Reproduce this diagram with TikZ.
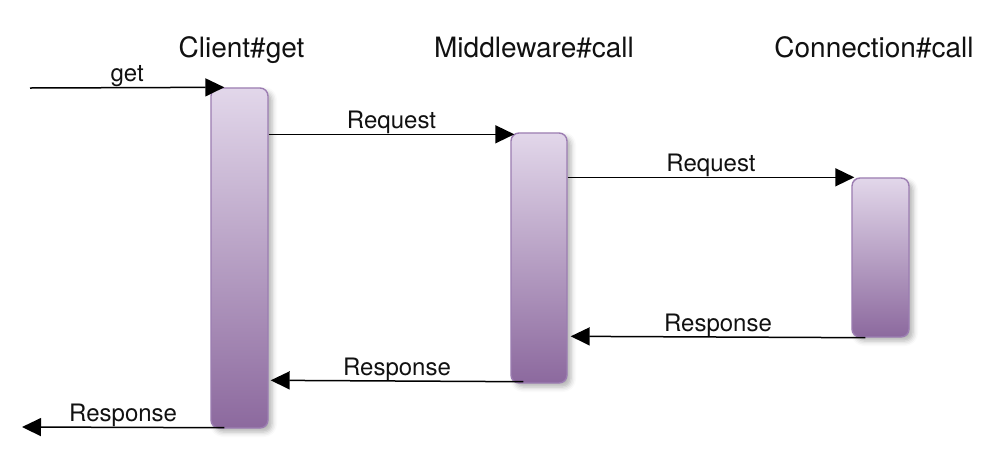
\documentclass[tikz,border=0pt]{standalone}
\usepackage{fontspec}
\setmainfont{TeX Gyre Heros}
\usetikzlibrary{arrows.meta,calc,shadows.blur}
\definecolor{topc}{HTML}{E2D7EA}
\definecolor{botc}{HTML}{8C699E}
\definecolor{edgec}{HTML}{9C7DB2}
\definecolor{txt}{HTML}{111111}
\tikzset{
  actbox/.style={draw=edgec, line width=1.4pt, rounded corners=8pt, top color=topc, bottom color=botc,
    inner sep=0pt, blur shadow={shadow xshift=4pt, shadow yshift=-4pt, shadow blur radius=5pt, shadow opacity=30}},
  title/.style={font=\fontsize{28}{30}\selectfont, text=txt, inner sep=0pt, anchor=base},
  msg/.style={draw=black, line width=1.5pt, -{Triangle[length=19pt,width=18pt]}},
  lbl/.style={font=\fontsize{24}{26}\selectfont, text=txt, inner sep=0pt, anchor=base, yshift=6pt, midway}
}
\begin{document}
\begin{tikzpicture}[x=1pt,y=-1pt]
\useasboundingbox (0,0) rectangle (1001,451);
% titles
\node[title] (tc) at (241.5,57) {Client\#get};
\node[title] (tm) at (534,57) {Middleware\#call};
\node[title] (tn) at (874,57) {Connection\#call};
% activation boxes
\node[actbox, minimum width=57pt, minimum height=340pt] (c) at (239.5,258) {};
\node[actbox, minimum width=56pt, minimum height=250pt] (m) at (539,258) {};
\node[actbox, minimum width=57pt, minimum height=159pt] (n) at (880.5,257.5) {};
% free ends
\coordinate (in) at (30,88);
\coordinate (out) at (22,427);
% messages
\draw[msg] (in) -- ($(c.north west)+(14,0)$) node[lbl] (l1) {get};
\draw[msg] ($(c.north east)+(0,47)$) -- ($(m.north west)+(4,2)$) node[lbl] (l2) {Request};
\draw[msg] ($(m.north east)+(0,45)$) -- ($(n.north west)+(3,0)$) node[lbl] (l3) {Request};
\draw[msg] ($(n.south west)+(14,0)$) -- ($(m.north east)+(3,204)$) node[lbl] (l4) {Response};
\draw[msg] ($(m.south west)+(13,-2)$) -- ($(c.north east)+(2,293)$) node[lbl] (l5) {Response};
\draw[msg] ($(c.south west)+(14,-1)$) -- (out) node[lbl] (l6) {Response};
\end{tikzpicture}
\end{document}
